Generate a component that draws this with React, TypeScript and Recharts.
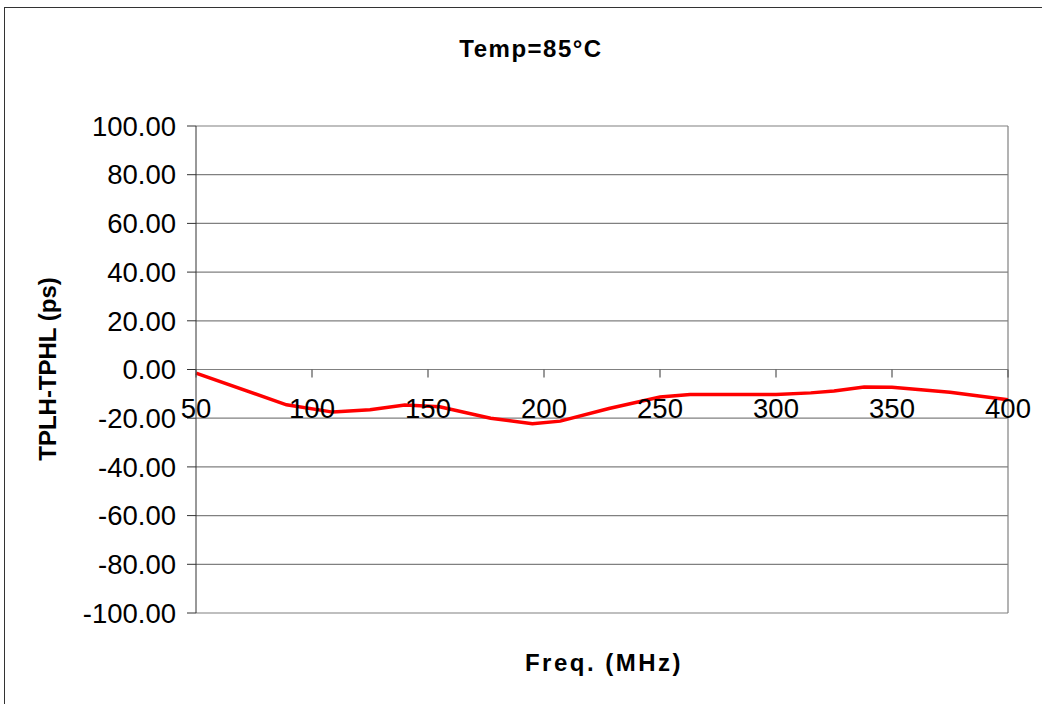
import { CartesianGrid, Line, LineChart, ReferenceLine, XAxis, YAxis } from 'recharts'

const freqs = [50, 89, 109, 125, 140, 155, 177, 195, 207, 228, 250, 263, 300, 315, 325, 338, 350, 375, 400]
const skew = [-1.5, -14.5, -17.5, -16.5, -14.6, -15.3, -20, -22.3, -21.2, -16, -11.3, -10.3, -10.3, -9.6, -8.8, -7.2, -7.3, -9.3, -12.4]
const xTicks = [50, 100, 150, 200, 250, 300, 350, 400]
const yTicks = [-100, -80, -60, -40, -20, 0, 20, 40, 60, 80, 100]

const title = 'Temp=85°C'
const xTitle = 'Freq. (MHz)'
const yTitle = 'TPLH-TPHL (ps)'

const data = freqs.map((f, i) => ({ freq: f, skew: skew[i] }))

const W = 1037
const H = 696
const margin = { top: 118, right: 34, bottom: 90, left: 71 }
const Y_MIN = -100
const Y_MAX = 100
const plotH = H - margin.top - margin.bottom - 1
const zeroY = margin.top + (plotH * (Y_MAX - 0)) / (Y_MAX - Y_MIN)

const font = '"Liberation Sans", Arial, sans-serif'

function FreqTick(props: any) {
  const { x, payload } = props
  return (
    <g>
      <line x1={x} x2={x} y1={zeroY} y2={zeroY + 8} stroke="#555" strokeWidth={1.2} />
      <text x={x} y={zeroY + 48} textAnchor="middle" fontSize={27.5} fontFamily={font} fill="#000">
        {payload.value}
      </text>
    </g>
  )
}

export default function App() {
  return (
    <div
      style={{
        position: 'absolute',
        left: 4,
        top: 7,
        width: 1038,
        height: 697,
        borderTop: '1px solid #333',
        borderLeft: '1px solid #333',
        background: '#fff',
        fontFamily: font,
      }}
    >
      <div style={{ position: 'absolute', left: 0, top: 0 }}>
        <LineChart width={W} height={H} data={data} margin={margin}>
          <CartesianGrid vertical={false} stroke="#808080" strokeWidth={1.2} />
          <XAxis
            dataKey="freq"
            type="number"
            domain={[50, 400]}
            ticks={xTicks}
            height={1}
            axisLine={false}
            tickLine={false}
            tick={<FreqTick />}
            interval={0}
          />
          <YAxis
            type="number"
            domain={[Y_MIN, Y_MAX]}
            ticks={yTicks}
            width={120}
            interval={0}
            stroke="#333"
            tickSize={9}
            tickMargin={11}
            tick={{ fontSize: 27.5, fill: '#000', fontFamily: font }}
            tickFormatter={(v) => Number(v).toFixed(2)}
          />
          <ReferenceLine x={400} stroke="#808080" strokeWidth={1.2} />
          <Line
            dataKey="skew"
            type="linear"
            stroke="#ff0000"
            strokeWidth={3.5}
            dot={false}
            isAnimationActive={false}
          />
        </LineChart>
      </div>
      <div
        style={{
          position: 'absolute',
          left: 530 - 4 - 150,
          width: 300,
          top: 27,
          textAlign: 'center',
          fontSize: 24,
          fontWeight: 'bold',
          letterSpacing: 1.5,
        }}
      >
        {title}
      </div>
      <div
        style={{
          position: 'absolute',
          left: 603 - 4 - 150,
          width: 300,
          top: 641,
          textAlign: 'center',
          fontSize: 24,
          fontWeight: 'bold',
          letterSpacing: 2.5,
        }}
      >
        {xTitle}
      </div>
      <div
        style={{
          position: 'absolute',
          left: 43 - 150,
          top: 361 - 15,
          width: 300,
          height: 30,
          lineHeight: '30px',
          textAlign: 'center',
          fontSize: 24,
          fontWeight: 'bold',
          transform: 'rotate(-90deg)',
        }}
      >
        {yTitle}
      </div>
    </div>
  )
}
